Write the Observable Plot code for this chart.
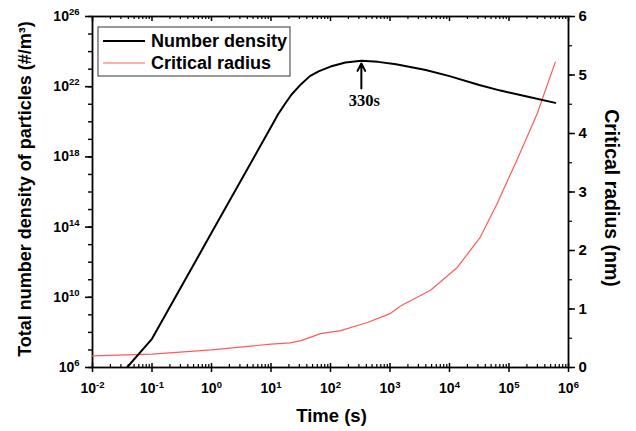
<!DOCTYPE html>
<html>
<head>
<meta charset="utf-8">
<script src="https://cdn.jsdelivr.net/npm/d3@7"></script>
<script src="https://cdn.jsdelivr.net/npm/@observablehq/plot@0.6"></script>
<style>
  html, body { margin: 0; padding: 0; background: #fff; }
  #chart { width: 636px; height: 431px; }
</style>
</head>
<body>
<div id="chart"></div>
<script>
// ---- data ----
const timeDensity = [0.038, 0.1, 1, 8, 10, 13, 17, 22, 32, 45, 63, 100, 178, 330, 630, 1260, 4000, 10000, 31600, 72000, 200000, 600000];
const numberDensity = [1e6, 4.3e7, 4.7e13, 1.3e19, 5e19, 2.5e20, 1e21, 3.5e21, 1.4e22, 4e22, 7.5e22, 1.4e23, 2.4e23, 3e23, 2.6e23, 1.9e23, 8.9e22, 4e22, 1.26e22, 6e21, 2.8e21, 1.2e21];

const timeRadius = [0.01, 0.1, 1, 10, 21, 32, 68, 148, 417, 1000, 1500, 4800, 13500, 33000, 63000, 135000, 295000, 600000];
const criticalRadius = [0.2, 0.23, 0.3, 0.4, 0.42, 0.46, 0.58, 0.63, 0.77, 0.92, 1.05, 1.32, 1.71, 2.23, 2.80, 3.54, 4.33, 5.22];

const xTickExponents = [-2, -1, 0, 1, 2, 3, 4, 5, 6];
const yTickExponents = [6, 10, 14, 18, 22, 26];
const yMinorExponents = d3.range(6, 27);
const rTicks = [0, 1, 2, 3, 4, 5, 6];
const rMinorTicks = d3.range(0, 6.01, 0.5);

const peakTime = 330;
const peakLabel = "330s";
const arrowFrom = 8e21, arrowTo = 2.1e23, peakLabelY = 1.6e21;

const seriesNames = ["Number density", "Critical radius"];
const seriesColors = ["#000000", "#ff5a5a"];

// ---- right axis mapped onto the log y scale ----
const yDomain = [1e6, 1e26];
const rDomain = [0, 6];
const rToY = r => Math.pow(10, 6 + (r - rDomain[0]) / (rDomain[1] - rDomain[0]) * 20);
const yToR = v => (Math.log10(v) - 6) / 20 * (rDomain[1] - rDomain[0]) + rDomain[0];

const xMajor = xTickExponents.map(e => Math.pow(10, e));
const xMinor = [];
for (let e = -2; e < 6; e++) for (let k = 2; k <= 9; k++) xMinor.push(k * Math.pow(10, e));
const yMajor = yTickExponents.map(e => Math.pow(10, e));
const yMinor = yMinorExponents.map(e => Math.pow(10, e));

const expFmt = v => "10^" + Math.round(Math.log10(v));

const densityData = timeDensity.map((t, i) => ({t, v: numberDensity[i]}));
const radiusData = timeRadius.map((t, i) => ({t, v: rToY(criticalRadius[i])}));

const FH = 351; // frame height in px (used only for tick insets)

const plot = Plot.plot({
  width: 636,
  height: 431,
  marginLeft: 92,
  marginRight: 68,
  marginTop: 16,
  marginBottom: 64,
  x: {type: "log", domain: [1e-2, 1e6]},
  y: {type: "log", domain: yDomain},
  style: {fontFamily: "'Liberation Sans', Arial, sans-serif", fontWeight: "bold", fontSize: "14px", color: "#000", background: "#fff"},
  marks: [
    // bottom axis: major outward labelled, plus inward ticks
    Plot.axisX({anchor: "bottom", ticks: xMajor, tickSize: 5, tickPadding: 11, tickFormat: expFmt, label: null, strokeWidth: 1.5, fontSize: 14}),
    Plot.tickX(xMajor, {x: d => d, insetTop: FH - 4, stroke: "black", strokeWidth: 1.5}),
    Plot.tickX(xMinor, {x: d => d, insetTop: FH - 3, stroke: "black", strokeWidth: 1.2}),
    // top mirror ticks (inward)
    Plot.tickX(xMajor, {x: d => d, insetBottom: FH - 5, stroke: "black", strokeWidth: 1.5}),
    Plot.tickX(xMinor, {x: d => d, insetBottom: FH - 3, stroke: "black", strokeWidth: 1.2}),
    // left axis
    Plot.axisY({anchor: "left", ticks: yMinor, tickSize: 4, tickFormat: () => "", label: null, strokeWidth: 1.4}),
    Plot.axisY({anchor: "left", ticks: yMajor, tickSize: 7, tickPadding: 6, tickFormat: expFmt, label: null, strokeWidth: 1.6, fontSize: 14}),
    // right axis (critical radius)
    Plot.axisY({anchor: "right", ticks: rMinorTicks.map(rToY), tickSize: 3, tickFormat: () => "", label: null, strokeWidth: 1.2}),
    Plot.axisY({anchor: "right", ticks: rTicks.map(rToY), tickSize: 6, tickPadding: 4, tickFormat: v => String(Math.round(yToR(v))), label: null, strokeWidth: 1.5, fontSize: 15}),
    Plot.frame({stroke: "black", strokeWidth: 1.8}),
    // series
    Plot.line(radiusData, {x: "t", y: "v", stroke: seriesColors[1], strokeWidth: 1.2, clip: true}),
    Plot.line(densityData, {x: "t", y: "v", stroke: seriesColors[0], strokeWidth: 2, clip: true}),
    // annotation
    Plot.arrow([{x: peakTime}], {x1: "x", x2: "x", y1: () => arrowFrom, y2: () => arrowTo, stroke: "black", strokeWidth: 2, headLength: 9, headAngle: 55}),
    Plot.text([{x: peakTime}], {x: "x", y: () => peakLabelY, dx: 3, text: () => peakLabel, fontFamily: "'Liberation Serif', 'Times New Roman', serif", fontWeight: "bold", fontSize: 16.5, fill: "black"}),
    // axis titles
    Plot.text(["Time (s)"], {frameAnchor: "bottom", textAnchor: "middle", lineAnchor: "middle", dx: 1, dy: 49, fontSize: 18.5, fontWeight: "bold", fill: "black"}),
    Plot.text(["Total number density of particles (#/m³)"], {frameAnchor: "left", textAnchor: "middle", lineAnchor: "middle", dx: -67, dy: -3, rotate: -90, fontSize: 18, fontWeight: "bold", fill: "black"}),
    Plot.text(["Critical radius (nm)"], {frameAnchor: "right", textAnchor: "middle", lineAnchor: "middle", dx: 43, dy: 6, rotate: 90, fontSize: 19.5, fontWeight: "bold", fill: "black"})
  ]
});

// superscripts for 10^n tick labels
const ns = "http://www.w3.org/2000/svg";
plot.querySelectorAll("text").forEach(t => {
  const m = t.textContent.match(/^10\^(.+)$/);
  if (m) {
    t.textContent = "10";
    const ts = document.createElementNS(ns, "tspan");
    ts.setAttribute("dy", "-0.6em");
    ts.setAttribute("font-size", "9.5");
    ts.textContent = m[1];
    t.appendChild(ts);
  }
});

// legend inside the plot frame
const svg = d3.select(plot);
const lg = svg.append("g").attr("font-family", "'Liberation Sans', Arial, sans-serif").attr("font-weight", "bold").attr("font-size", 18).attr("text-anchor", "start");
lg.append("rect").attr("x", 98).attr("y", 27).attr("width", 192).attr("height", 49)
  .attr("fill", "white").attr("stroke", "#555").attr("stroke-width", 1.2);
seriesNames.forEach((name, i) => {
  const y = 41 + i * 22;
  lg.append("line").attr("x1", 103).attr("x2", 145).attr("y1", y).attr("y2", y)
    .attr("stroke", seriesColors[i]).attr("stroke-width", i === 0 ? 2 : 1.2);
  lg.append("text").attr("x", 151).attr("y", y).attr("dy", "0.35em").attr("text-anchor", "start").attr("fill", "black").text(name);
});

document.getElementById("chart").appendChild(plot);
</script>
</body>
</html>
